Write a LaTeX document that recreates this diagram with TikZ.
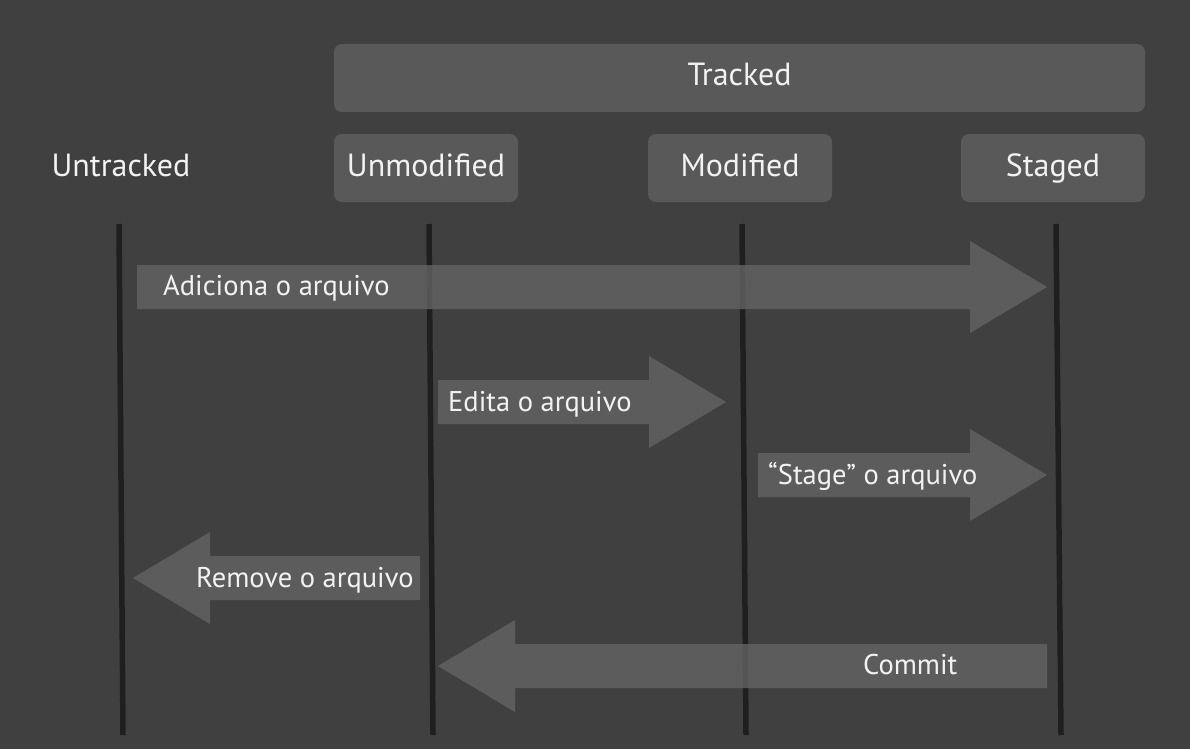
\documentclass[tikz,border=0pt]{standalone}
\usepackage{fontspec}
\setmainfont{PT Sans}
\usetikzlibrary{calc}
\definecolor{fundo}{HTML}{404040}
\definecolor{caixa}{HTML}{595959}
\definecolor{linha}{HTML}{1F1F1F}
\definecolor{setacor}{HTML}{656565}
\definecolor{texto}{HTML}{F2F2F2}
\newcommand{\titulo}{\fontsize{32}{36}\selectfont}
\newcommand{\rotulo}{\fontsize{28.5}{32}\selectfont}
% bloco de seta: origem, ponta, sentido (1 ou -1)
\newcommand{\blocoseta}[3]{%
  \fill[setacor,fill opacity=0.78] ($(#1)+(0,-22)$) -- ($(#2)+(-77*#3,-22)$) -- ($(#2)+(-77*#3,-46)$)
    -- (#2) -- ($(#2)+(-77*#3,46)$) -- ($(#2)+(-77*#3,22)$) -- ($(#1)+(0,22)$) -- cycle;}

\begin{document}
\begin{tikzpicture}[x=1pt,y=-1pt,
    estado/.style={fill=caixa,rounded corners=8pt,minimum width=184pt,minimum height=68pt,text=texto,font=\titulo,inner sep=0pt,text height=23pt,text depth=7pt},
    faixa/.style={draw=linha,line width=5.5pt},
    acao/.style={anchor=base west,text=texto,font=\rotulo,inner sep=0pt}]
  \fill[fundo] (0,0) rectangle (1190,749);
  \useasboundingbox (0,0) rectangle (1190,749);
  % estados
  \node[estado,minimum width=811pt] (tracked) at (739.5,78) {Tracked};
  \node[estado,fill=none] (untracked) at (121,168) {Untracked};
  \node[estado] (unmodified) at (426,168) {Unmodified};
  \node[estado] (modified) at (740,168) {Modified};
  \node[estado] (staged) at (1053,168) {Staged};
  % faixas
  \coordinate (u1) at (119,224); \coordinate (u2) at (123,735);
  \coordinate (n1) at (429,224); \coordinate (n2) at (433,735);
  \coordinate (m1) at (742,224); \coordinate (m2) at (746,735);
  \coordinate (s1) at (1056,224); \coordinate (s2) at (1061,735);
  \draw[faixa] (u1) -- (u2);
  \draw[faixa] (n1) -- (n2);
  \draw[faixa] (m1) -- (m2);
  \draw[faixa] (s1) -- (s2);
  % setas
  \coordinate (a0) at (137,287); \coordinate (a1) at (1047,287);
  \coordinate (e0) at (438,402); \coordinate (e1) at (726,402);
  \coordinate (g0) at (758,475); \coordinate (g1) at (1047,475);
  \coordinate (r0) at (420,578); \coordinate (r1) at (133,578);
  \coordinate (c0) at (1047,666); \coordinate (c1) at (438,666);
  \blocoseta{a0}{a1}{1}
  \blocoseta{e0}{e1}{1}
  \blocoseta{g0}{g1}{1}
  \blocoseta{r0}{r1}{-1}
  \blocoseta{c0}{c1}{-1}
  \node[acao] (adiciona) at (163,295) {Adiciona o arquivo};
  \node[acao] (edita) at (448,411) {Edita o arquivo};
  \node[acao] (stage) at (768,484) {“Stage” o arquivo};
  \node[acao] (remove) at (196,587) {Remove o arquivo};
  \node[acao] (commit) at (863,674) {Commit};
\end{tikzpicture}
\end{document}
